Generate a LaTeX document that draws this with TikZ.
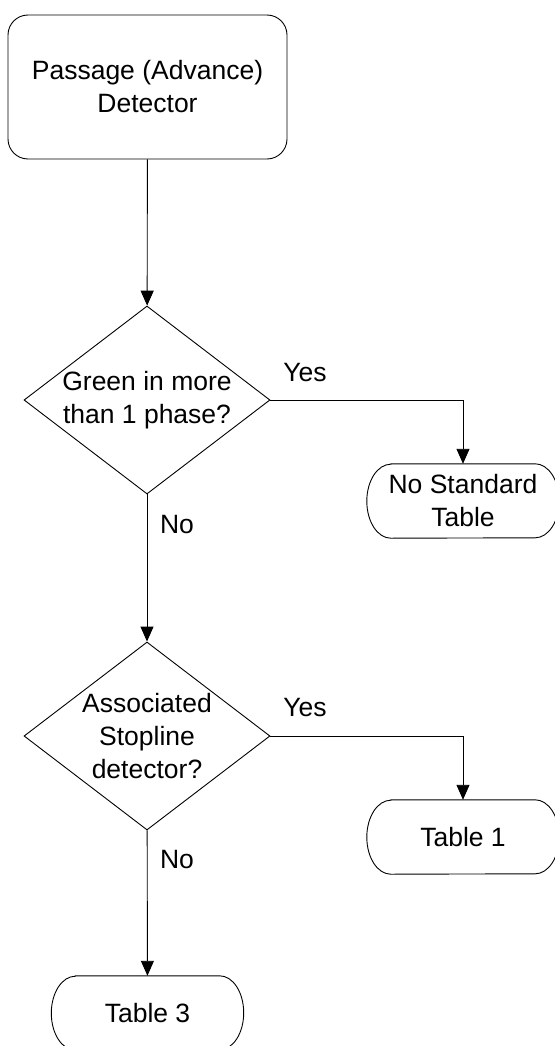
\documentclass[tikz,border=0pt]{standalone}
\usepackage{fontspec}
\setmainfont{Liberation Sans}
\usetikzlibrary{shapes.geometric,arrows.meta}
\newcommand\termoutline[1]{\draw[line] ([xshift=24pt]#1.north west) -- ([xshift=-24pt]#1.north east) arc[start angle=90,end angle=-90,x radius=24pt,y radius=37pt] -- ([xshift=24pt]#1.south west) arc[start angle=270,end angle=90,x radius=24pt,y radius=37pt] -- cycle;}
\begin{document}
\begin{tikzpicture}[x=1pt,y=-1pt,
  every node/.style={font=\fontsize{26.5}{33}\selectfont, align=center},
  line/.style={line width=0.9pt},
  arr/.style={line, -{Triangle[length=15pt,width=13pt]}},
  startbox/.style={draw, line width=0.9pt, rounded corners=20pt, minimum width=279pt, minimum height=144pt, inner sep=0},
  decision/.style={draw, line width=0.9pt, diamond, aspect=1.31, minimum width=246pt, minimum height=188pt, inner sep=0},
  termtext/.style={minimum width=192pt, minimum height=74pt, inner sep=0},
  lbl/.style={inner sep=0}
]
\useasboundingbox (0,0) rectangle (554,1046);
\fill[white] (0,0) rectangle (554,1046);

\node[startbox] (start) at (147.5,87) {Passage (Advance)\\Detector};
\node[decision] (d1) at (147,400) {Green in more\\than 1 phase?};
\node[decision] (d2) at (147,736) {Associated\\Stopline\\detector?};
\node[termtext] (t1) at (463,501) {No Standard\\Table};
\node[termtext] (t2) at (463,837) {Table 1};
\node[termtext] (t3) at (147.5,1013) {Table 3};
\termoutline{t1}
\termoutline{t2}
\termoutline{t3}

\draw[arr] (start) -- (d1);
\draw[arr] (d1.east) -| (t1.north);
\draw[arr] (d1) -- (d2);
\draw[arr] (d2.east) -| (t2.north);
\draw[arr] (d2) -- (t3);

\node[lbl] (y1) at (305,373) {Yes};
\node[lbl] (y2) at (305,708) {Yes};
\node[lbl] (n1) at (177,525) {No};
\node[lbl] (n2) at (177,860) {No};
\end{tikzpicture}
\end{document}
